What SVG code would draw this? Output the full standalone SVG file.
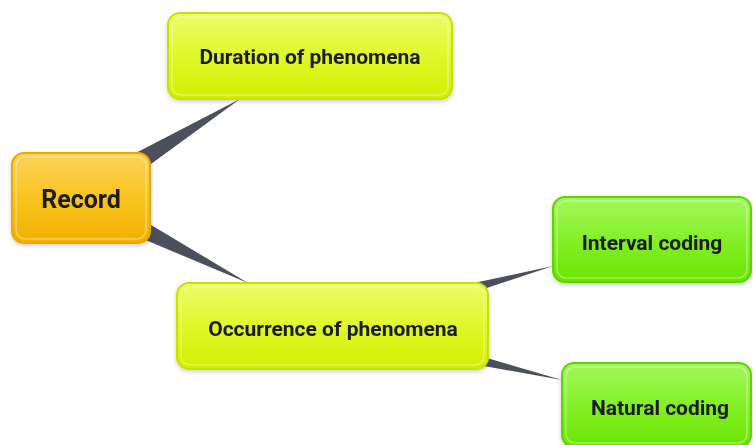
<svg xmlns="http://www.w3.org/2000/svg" width="753" height="445" viewBox="0 0 753 445">
<defs>
<linearGradient id="gOrange" x1="0" y1="0" x2="0" y2="1">
<stop offset="0" stop-color="#fbd35a"/><stop offset="0.5" stop-color="#f8c420"/><stop offset="1" stop-color="#f2b000"/>
</linearGradient>
<linearGradient id="gLime" x1="0" y1="0" x2="0" y2="1">
<stop offset="0" stop-color="#ecfc6a"/><stop offset="0.5" stop-color="#e0f82a"/><stop offset="1" stop-color="#d2ee00"/>
</linearGradient>
<linearGradient id="gGreen" x1="0" y1="0" x2="0" y2="1">
<stop offset="0" stop-color="#a4f75e"/><stop offset="0.5" stop-color="#84f028"/><stop offset="1" stop-color="#6ae400"/>
</linearGradient>
<filter id="sh" x="-10%" y="-10%" width="120%" height="130%">
<feDropShadow dx="0" dy="2" stdDeviation="2" flood-color="#000" flood-opacity="0.18"/>
</filter>
</defs>
<style>
.orange{fill:url(#gOrange);stroke:#e9a900;stroke-width:2}
.lime{fill:url(#gLime);stroke:#c9e300;stroke-width:2}
.green{fill:url(#gGreen);stroke:#5fd400;stroke-width:2}
.hl{fill:none;stroke:#ffffff;stroke-opacity:0.35;stroke-width:1.5}
.t{font-family:Roboto,"Liberation Sans",sans-serif;font-weight:bold;fill:#1a1a1a;text-anchor:middle;font-size:21px}
.wedge{fill:#4b505c}
</style>
<g id="connectors">
<polygon class="wedge" points="72,186 88,210 240,99"/>
<polygon class="wedge" points="86,186 74,210 248,283"/>
<polygon class="wedge" points="329,314 337,338 553,266"/>
<polygon class="wedge" points="337,314 329,338 562,380"/>
</g>
<g id="record" filter="url(#sh)">
<rect class="orange" x="12" y="153" width="138" height="90" rx="12"/>
<rect class="hl" x="16" y="157" width="130" height="82" rx="9"/>
<text class="t" x="81" y="208" style="font-size:25px">Record</text>
</g>
<g id="duration" filter="url(#sh)">
<rect class="lime" x="168" y="13" width="284" height="86" rx="12"/>
<rect class="hl" x="172" y="17" width="276" height="78" rx="9"/>
<text class="t" x="310" y="64">Duration of phenomena</text>
</g>
<g id="occurrence" filter="url(#sh)">
<rect class="lime" x="177" y="283" width="311" height="86" rx="12"/>
<rect class="hl" x="181" y="287" width="303" height="78" rx="9"/>
<text class="t" x="333" y="336">Occurrence of phenomena</text>
</g>
<g id="interval" filter="url(#sh)">
<rect class="green" x="553" y="197" width="198" height="85" rx="12"/>
<rect class="hl" x="557" y="201" width="190" height="77" rx="9"/>
<text class="t" x="652" y="250">Interval coding</text>
</g>
<g id="natural" filter="url(#sh)">
<rect class="green" x="562" y="363" width="189" height="84" rx="12"/>
<rect class="hl" x="566" y="367" width="181" height="76" rx="9"/>
<text class="t" x="660" y="415">Natural coding</text>
</g>
</svg>
